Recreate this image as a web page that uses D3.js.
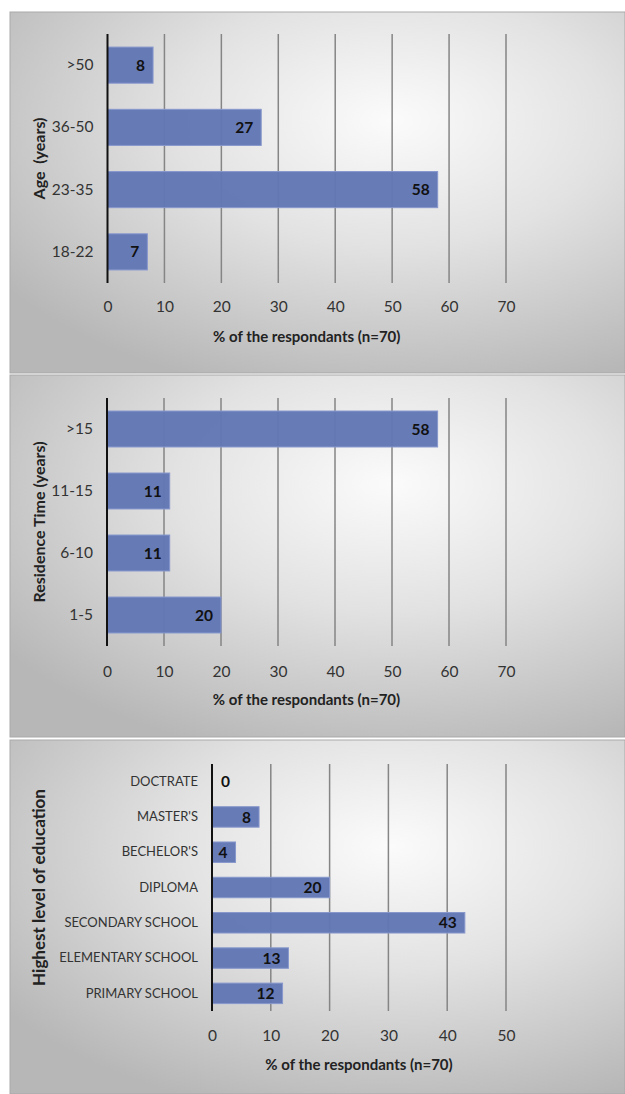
<!DOCTYPE html>
<html>
<head>
<meta charset="utf-8">
<script src="https://cdn.jsdelivr.net/npm/d3@7"></script>
<style>
  html, body { margin: 0; padding: 0; background: #fff; }
  svg { display: block; }
</style>
</head>
<body>
<svg id="chart" width="625" height="1094"></svg>
<script>
// Survey profile of respondents (n = 70), percentages
const ageCategories = [">50", "36-50", "23-35", "18-22"];
const ageValues = [8, 27, 58, 7];

const residenceCategories = [">15", "11-15", "6-10", "1-5"];
const residenceValues = [58, 11, 11, 20];

const educationCategories = ["DOCTRATE", "MASTER'S", "BECHELOR'S", "DIPLOMA",
  "SECONDARY SCHOOL", "ELEMENTARY SCHOOL", "PRIMARY SCHOOL"];
const educationValues = [0, 8, 4, 20, 43, 13, 12];

const ticks70 = [0, 10, 20, 30, 40, 50, 60, 70];
const ticks50 = [0, 10, 20, 30, 40, 50];

const xTitle = "% of the respondants (n=70)";

const svg = d3.select("#chart");
const FONT = "Lato, 'Open Sans', sans-serif";

// shared background gradient for the panels
const defs = svg.append("defs");
const grad = defs.append("radialGradient")
  .attr("id", "panelBg")
  .attr("cx", "62%").attr("cy", "30%").attr("r", "78%")
  .attr("fx", "62%").attr("fy", "30%");
grad.append("stop").attr("offset", "0%").attr("stop-color", "#fbfbfb");
grad.append("stop").attr("offset", "45%").attr("stop-color", "#e2e2e2");
grad.append("stop").attr("offset", "100%").attr("stop-color", "#b7b7b7");

function drawPanel(cfg) {
  const g = svg.append("g");

  // panel background
  g.append("rect")
    .attr("x", cfg.box[0]).attr("y", cfg.box[1])
    .attr("width", cfg.box[2]).attr("height", cfg.box[3])
    .attr("fill", "url(#panelBg)")
    .attr("stroke", "#a9a9a9").attr("stroke-width", 1);

  const x = d3.scaleLinear().domain(cfg.domain).range([cfg.x0, cfg.x1]);
  const y = d3.scaleBand().domain(cfg.categories)
    .range([cfg.top, cfg.bottom]).paddingInner(0.42).paddingOuter(0.21);

  // vertical gridlines
  g.append("g").selectAll("line")
    .data(cfg.ticks.filter(t => t > 0))
    .join("line")
    .attr("x1", d => x(d)).attr("x2", d => x(d))
    .attr("y1", cfg.top).attr("y2", cfg.bottom)
    .attr("stroke", "#858585").attr("stroke-width", 1.5);

  // bars
  const data = cfg.categories.map((c, i) => ({ c, v: cfg.values[i] }));
  g.append("g").selectAll("rect")
    .data(data.filter(d => d.v > 0))
    .join("rect")
    .attr("x", x(0))
    .attr("y", d => y(d.c))
    .attr("width", d => x(d.v) - x(0))
    .attr("height", y.bandwidth())
    .attr("fill", "#6277b5")
    .attr("fill-opacity", 0.97)
    .attr("stroke", "#8797cc").attr("stroke-width", 1);

  // value labels at the inside end of each bar
  g.append("g").selectAll("text")
    .data(data)
    .join("text")
    .attr("x", d => d.v > 0 ? x(d.v) - 8 : x(0) + 9)
    .attr("y", d => y(d.c) + y.bandwidth() / 2)
    .attr("dy", "0.36em")
    .attr("text-anchor", d => d.v > 0 ? "end" : "start")
    .attr("font-family", FONT).attr("font-weight", "bold")
    .attr("font-size", 15.5).attr("fill", "#111")
    .text(d => d.v);

  // category axis (left)
  const yAxis = g.append("g")
    .attr("transform", `translate(${x(0)},0)`)
    .call(d3.axisLeft(y).tickSize(0).tickPadding(cfg.labelPad));
  yAxis.select(".domain").remove();
  yAxis.selectAll("text")
    .attr("font-family", FONT).attr("font-size", cfg.catFont)
    .attr("fill", "#333");
  g.append("line")
    .attr("x1", x(0)).attr("x2", x(0))
    .attr("y1", cfg.top).attr("y2", cfg.bottom)
    .attr("stroke", "#111").attr("stroke-width", 2);

  // value axis (bottom)
  const xAxis = g.append("g")
    .attr("transform", `translate(0,${cfg.tickY})`)
    .call(d3.axisBottom(x).tickValues(cfg.ticks).tickSize(0).tickPadding(0));
  xAxis.select(".domain").remove();
  xAxis.selectAll("text")
    .attr("dy", "0.36em")
    .attr("font-family", FONT).attr("font-size", 15.5).attr("fill", "#333");

  // axis titles
  g.append("text")
    .attr("x", (cfg.x0 + cfg.x1) / 2).attr("y", cfg.titleY)
    .attr("dy", "0.36em")
    .attr("text-anchor", "middle")
    .attr("font-family", FONT).attr("font-weight", "bold")
    .attr("font-size", 15).attr("fill", "#222")
    .text(xTitle);

  g.append("text")
    .attr("transform", `translate(${cfg.yTitleX},${(cfg.top + cfg.bottom) / 2}) rotate(-90)`)
    .attr("dy", "0.36em")
    .attr("text-anchor", "middle")
    .attr("font-family", FONT).attr("font-weight", "bold")
    .attr("font-size", cfg.yTitleFont).attr("fill", "#222")
    .style("white-space", "pre")
    .text(cfg.yTitle);
}

drawPanel({
  box: [10, 12, 615, 361],
  categories: ageCategories, values: ageValues,
  domain: [0, 70], ticks: ticks70,
  x0: 107.5, x1: 506, top: 34, bottom: 283,
  tickY: 306, titleY: 337, yTitleX: 39, yTitleFont: 16,
  labelPad: 14, catFont: 15.5,
  yTitle: "Age  (years)"
});

drawPanel({
  box: [10, 375, 615, 362],
  categories: residenceCategories, values: residenceValues,
  domain: [0, 70], ticks: ticks70,
  x0: 107, x1: 506, top: 398, bottom: 646,
  tickY: 671, titleY: 700, yTitleX: 39, yTitleFont: 16,
  labelPad: 14, catFont: 15.5,
  yTitle: "Residence Time (years)"
});

drawPanel({
  box: [10, 740, 615, 354],
  categories: educationCategories, values: educationValues,
  domain: [0, 50], ticks: ticks50,
  x0: 212, x1: 506, top: 764, bottom: 1011,
  tickY: 1035, titleY: 1065, yTitleX: 39, yTitleFont: 17,
  labelPad: 14, catFont: 13,
  yTitle: "Highest level of education"
});
</script>
</body>
</html>
